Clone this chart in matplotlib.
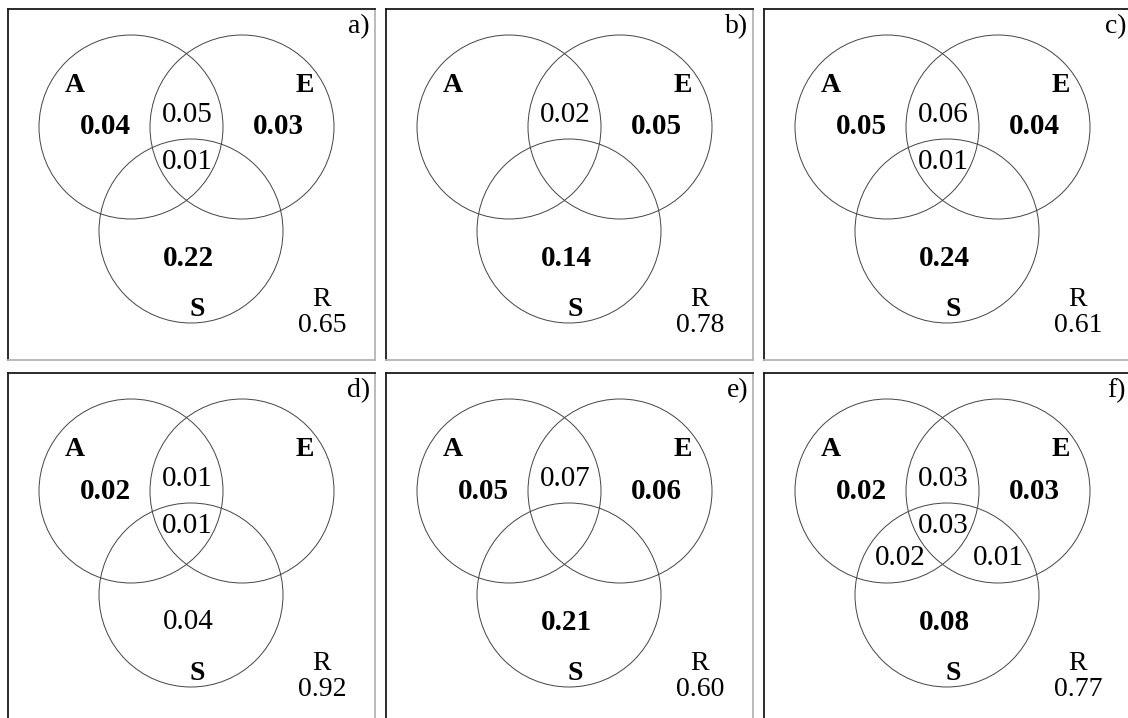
import matplotlib.pyplot as plt
from matplotlib.patches import Circle

plt.rcParams['font.family'] = ['Liberation Serif', 'DejaVu Serif']

# 各子图的数值
panel_tags = ['a)', 'b)', 'c)', 'd)', 'e)', 'f)']
a_only = [0.04, None, 0.05, 0.02, 0.05, 0.02]
e_only = [0.03, 0.05, 0.04, None, 0.06, 0.03]
s_only = [0.22, 0.14, 0.24, 0.04, 0.21, 0.08]
s_bold = [True, True, True, False, True, True]
ae = [0.05, 0.02, 0.06, 0.01, 0.07, 0.03]
aes = [0.01, None, 0.01, 0.01, None, 0.03]
a_s = [None, None, None, None, None, 0.02]
e_s = [None, None, None, None, None, 0.01]
r_vals = [0.65, 0.78, 0.61, 0.92, 0.60, 0.77]

W, H = 1128, 718
PW, PH = 367, 351            # 子图大小(像素)
lefts = [8, 386, 764]
tops = [9, 373]

fig = plt.figure(figsize=(W / 100, H / 100), dpi=100)

# 圆心和半径(子图内像素坐标)
centers = {'A': (123, 118), 'E': (234, 118), 'S': (183, 222)}
rad = 92

def fmt(v):
    return '%.2f' % v

for k in range(6):
    row, col = divmod(k, 3)
    x0, y0 = lefts[col], tops[row]
    ax = fig.add_axes([x0 / W, 1 - (y0 + PH) / H, PW / W, PH / H])
    ax.set_xlim(0, PW)
    ax.set_ylim(PH, 0)
    ax.set_xticks([])
    ax.set_yticks([])
    for s in ['top', 'left']:
        ax.spines[s].set_color('#1a1a1a')
        ax.spines[s].set_linewidth(1.3)
    for s in ['right', 'bottom']:
        ax.spines[s].set_color('#b5b5b5')
        ax.spines[s].set_linewidth(1.3)

    for name in ['A', 'E', 'S']:
        ax.add_patch(Circle(centers[name], rad, fill=False, ec='#444444', lw=0.7))

    ax.text(67, 76, 'A', fontsize=20, fontweight='bold', ha='center', va='center')
    ax.text(297, 76, 'E', fontsize=20, fontweight='bold', ha='center', va='center')
    ax.text(189, 301, 'S', fontsize=20, fontweight='bold', ha='center', va='center')

    if a_only[k] is not None:
        ax.text(97, 118, fmt(a_only[k]), fontsize=21, fontweight='bold', ha='center', va='center')
    if e_only[k] is not None:
        ax.text(270, 118, fmt(e_only[k]), fontsize=21, fontweight='bold', ha='center', va='center')
    ax.text(180, 249, fmt(s_only[k]), fontsize=21,
            fontweight='bold' if s_bold[k] else 'normal', ha='center', va='center')
    if ae[k] is not None:
        ax.text(179, 106, fmt(ae[k]), fontsize=21, ha='center', va='center')
    if aes[k] is not None:
        ax.text(179, 153, fmt(aes[k]), fontsize=21, ha='center', va='center')
    if a_s[k] is not None:
        ax.text(136, 185, fmt(a_s[k]), fontsize=21, ha='center', va='center')
    if e_s[k] is not None:
        ax.text(234, 185, fmt(e_s[k]), fontsize=21, ha='center', va='center')

    ax.text(314, 290, 'R', fontsize=20, ha='center', va='center')
    ax.text(314, 316, fmt(r_vals[k]), fontsize=20, ha='center', va='center')
    ax.text(362, 18, panel_tags[k], fontsize=20, ha='right', va='center')

plt.savefig('out.png', dpi=100)
